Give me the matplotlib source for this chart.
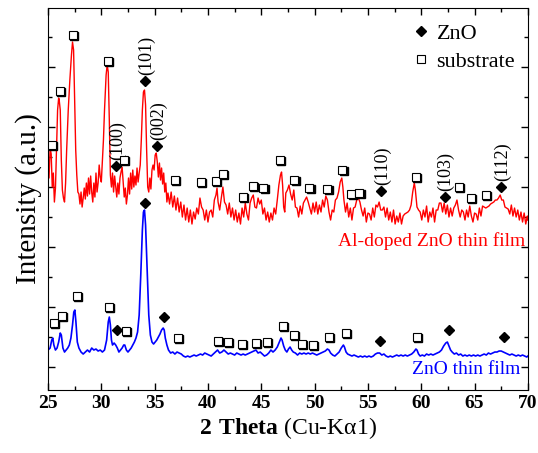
import matplotlib
matplotlib.use('Agg')
import matplotlib.pyplot as plt
import matplotlib.transforms as mtransforms
from matplotlib.lines import Line2D
from matplotlib.ticker import MultipleLocator

plt.rcParams['font.family'] = ['Liberation Serif', 'DejaVu Serif']
plt.rcParams['mathtext.fontset'] = 'custom'
plt.rcParams['mathtext.rm'] = 'Liberation Serif'
plt.rcParams['mathtext.bf'] = 'Liberation Serif:bold'

# Al-doped ZnO thin film (red), intensity in arbitrary units
red_x = [25.00, 25.10, 25.20, 25.30, 25.40, 25.50, 25.60, 25.70, 25.80, 25.90, 26.00, 26.05, 26.15, 26.25, 26.35,
         26.45, 26.55, 26.65, 26.75, 26.90, 27.05, 27.20, 27.30, 27.40, 27.50, 27.60, 27.70, 27.80, 27.90, 28.00,
         28.10, 28.20, 28.30, 28.40, 28.50, 28.60, 28.70, 28.80, 28.90, 29.00, 29.10, 29.20, 29.30, 29.40, 29.50,
         29.60, 29.70, 29.80, 29.90, 30.00, 30.10, 30.20, 30.30, 30.45, 30.55, 30.65, 30.75, 30.85, 30.95, 31.05,
         31.15, 31.25, 31.35, 31.45, 31.55, 31.65, 31.75, 31.85, 31.95, 32.05, 32.15, 32.25, 32.35, 32.45, 32.55,
         32.65, 32.75, 32.85, 32.95, 33.05, 33.15, 33.25, 33.35, 33.45, 33.55, 33.65, 33.75, 33.85, 33.95, 34.05,
         34.15, 34.25, 34.35, 34.45, 34.55, 34.65, 34.75, 34.85, 34.95, 35.05, 35.15, 35.25, 35.35, 35.45, 35.55,
         35.65, 35.75, 35.85, 35.95, 36.05, 36.15, 36.25, 36.40, 36.55, 36.70, 36.85, 37.00, 37.15, 37.30, 37.45,
         37.60, 37.75, 37.90, 38.05, 38.20, 38.35, 38.50, 38.65, 38.80, 38.95, 39.10, 39.25, 39.40, 39.55, 39.70,
         39.85, 40.00, 40.15, 40.30, 40.45, 40.60, 40.75, 40.85, 40.95, 41.10, 41.25, 41.40, 41.55, 41.70, 41.85,
         42.00, 42.15, 42.30, 42.45, 42.60, 42.75, 42.90, 43.05, 43.20, 43.35, 43.50, 43.65, 43.80, 43.95, 44.10,
         44.25, 44.40, 44.55, 44.70, 44.85, 45.00, 45.15, 45.30, 45.45, 45.60, 45.75, 45.90, 46.05, 46.20, 46.35,
         46.50, 46.65, 46.80, 46.90, 47.00, 47.10, 47.20, 47.30, 47.45, 47.60, 47.75, 47.90, 48.05, 48.20, 48.35,
         48.50, 48.65, 48.80, 48.95, 49.10, 49.25, 49.40, 49.55, 49.70, 49.85, 50.00, 50.15, 50.30, 50.45, 50.60,
         50.75, 50.90, 51.05, 51.20, 51.35, 51.50, 51.65, 51.80, 51.95, 52.10, 52.25, 52.40, 52.55, 52.65, 52.75,
         52.90, 53.05, 53.20, 53.35, 53.50, 53.65, 53.80, 53.95, 54.10, 54.25, 54.40, 54.55, 54.70, 54.85, 55.00,
         55.15, 55.30, 55.45, 55.60, 55.75, 55.90, 56.05, 56.20, 56.35, 56.50, 56.65, 56.80, 56.95, 57.10, 57.25,
         57.40, 57.55, 57.70, 57.85, 58.00, 58.15, 58.30, 58.45, 58.60, 58.75, 58.90, 59.05, 59.20, 59.35, 59.45,
         59.60, 59.75, 59.90, 60.05, 60.20, 60.35, 60.50, 60.65, 60.80, 60.95, 61.10, 61.25, 61.40, 61.55, 61.70,
         61.85, 62.00, 62.15, 62.30, 62.45, 62.60, 62.75, 62.90, 63.05, 63.20, 63.35, 63.50, 63.65, 63.80, 63.95,
         64.10, 64.25, 64.40, 64.55, 64.70, 64.85, 65.00, 65.15, 65.30, 65.45, 65.60, 65.75, 65.90, 66.05, 66.20,
         66.35, 66.50, 66.65, 66.80, 66.95, 67.10, 67.25, 67.40, 67.55, 67.70, 67.85, 68.00, 68.15, 68.30, 68.45,
         68.60, 68.75, 68.90, 69.05, 69.20, 69.35, 69.50, 69.65, 69.80, 69.95, 70.00]
red_y = [230, 212, 242, 236, 203, 217, 188, 202, 240, 280, 292, 290, 280, 230, 200,
         192, 188, 207, 240, 280, 310, 335, 348, 340, 290, 240, 215, 198, 196, 186,
         198, 183, 192, 202, 191, 207, 194, 212, 196, 214, 198, 188, 207, 193, 217,
         198, 207, 225, 213, 208, 230, 250, 280, 315, 325, 318, 270, 215, 203, 217,
         198, 214, 203, 193, 207, 196, 212, 218, 223, 208, 193, 202, 186, 195, 212,
         196, 217, 201, 220, 203, 214, 205, 222, 208, 217, 225, 250, 280, 298, 300,
         285, 240, 203, 198, 212, 201, 220, 225, 220, 235, 237, 228, 213, 227, 210,
         222, 206, 217, 198, 207, 188, 197, 186, 198, 183, 194, 180, 192, 178, 188,
         173, 185, 170, 182, 168, 180, 166, 178, 171, 182, 176, 192, 183, 180, 170,
         180, 168, 178, 180, 173, 190, 195, 202, 188, 180, 192, 203, 188, 185, 176,
         187, 173, 182, 170, 180, 168, 177, 166, 182, 173, 187, 176, 170, 187, 192,
         195, 183, 182, 192, 186, 190, 176, 182, 170, 178, 168, 177, 170, 182, 176,
         190, 205, 215, 218, 205, 183, 178, 197, 200, 205, 196, 190, 200, 183, 182,
         173, 184, 176, 187, 190, 193, 188, 182, 176, 187, 178, 188, 176, 185, 178,
         190, 183, 194, 190, 178, 170, 180, 178, 190, 192, 198, 208, 212, 203, 190,
         178, 187, 173, 182, 170, 182, 183, 190, 192, 188, 180, 174, 182, 168, 177,
         176, 170, 182, 173, 185, 183, 188, 180, 180, 183, 173, 182, 170, 178, 168,
         180, 166, 174, 168, 177, 166, 174, 176, 177, 178, 180, 185, 198, 207, 200,
         183, 180, 178, 170, 180, 173, 184, 168, 178, 173, 182, 168, 180, 180, 187,
         187, 178, 187, 176, 185, 173, 182, 174, 182, 185, 190, 180, 173, 180, 178,
         170, 180, 173, 184, 174, 168, 177, 176, 170, 182, 174, 184, 183, 182, 183,
         184, 186, 187, 188, 190, 190, 192, 195, 190, 190, 183, 182, 181, 176, 185,
         174, 182, 173, 180, 170, 178, 168, 177, 166, 174, 170]

# ZnO thin film (blue)
blue_x = [25.00, 25.20, 25.35, 25.45, 25.55, 25.70, 25.85, 26.00, 26.15, 26.25, 26.40, 26.55, 26.70, 26.85, 27.00,
          27.15, 27.30, 27.42, 27.52, 27.62, 27.75, 27.90, 28.10, 28.30, 28.50, 28.70, 28.90, 29.10, 29.30, 29.50,
          29.70, 29.90, 30.10, 30.30, 30.50, 30.65, 30.75, 30.85, 30.95, 31.05, 31.20, 31.35, 31.50, 31.65, 31.80,
          31.95, 32.10, 32.20, 32.35, 32.50, 32.65, 32.80, 32.95, 33.10, 33.25, 33.40, 33.55, 33.70, 33.85, 33.95,
          34.05, 34.15, 34.30, 34.45, 34.60, 34.75, 34.90, 35.05, 35.20, 35.35, 35.50, 35.65, 35.80, 35.90, 36.00,
          36.15, 36.30, 36.50, 36.70, 36.90, 37.10, 37.30, 37.50, 37.70, 37.90, 38.10, 38.30, 38.50, 38.70, 38.90,
          39.10, 39.30, 39.50, 39.70, 39.90, 40.10, 40.30, 40.50, 40.70, 40.90, 41.10, 41.30, 41.50, 41.70, 41.90,
          42.10, 42.30, 42.50, 42.70, 42.90, 43.10, 43.30, 43.50, 43.70, 43.90, 44.10, 44.30, 44.50, 44.70, 44.90,
          45.10, 45.30, 45.50, 45.70, 45.90, 46.10, 46.30, 46.50, 46.70, 46.85, 46.95, 47.10, 47.25, 47.40, 47.55,
          47.70, 47.85, 48.00, 48.20, 48.40, 48.60, 48.80, 49.00, 49.20, 49.40, 49.60, 49.80, 50.00, 50.20, 50.40,
          50.60, 50.80, 51.00, 51.20, 51.35, 51.50, 51.70, 51.90, 52.10, 52.30, 52.50, 52.70, 52.80, 52.95, 53.10,
          53.30, 53.50, 53.70, 53.90, 54.10, 54.30, 54.50, 54.70, 54.90, 55.10, 55.30, 55.50, 55.70, 55.90, 56.10,
          56.30, 56.50, 56.70, 56.90, 57.10, 57.30, 57.50, 57.70, 57.90, 58.10, 58.30, 58.50, 58.70, 58.90, 59.10,
          59.30, 59.50, 59.60, 59.75, 59.90, 60.10, 60.30, 60.50, 60.70, 60.90, 61.10, 61.30, 61.50, 61.70, 61.90,
          62.10, 62.30, 62.45, 62.60, 62.75, 62.90, 63.10, 63.30, 63.50, 63.70, 63.90, 64.10, 64.30, 64.50, 64.70,
          64.90, 65.10, 65.30, 65.50, 65.70, 65.90, 66.10, 66.30, 66.50, 66.70, 66.90, 67.10, 67.30, 67.50, 67.70,
          67.90, 68.10, 68.30, 68.50, 68.70, 68.90, 69.10, 69.30, 69.50, 69.70, 69.90, 70.00]
blue_y = [40, 42, 50, 52, 45, 40, 42, 48, 57, 55, 42, 38, 40, 42, 45,
          52, 65, 78, 80, 68, 48, 42, 38, 36, 38, 40, 38, 42, 40, 41,
          39, 40, 38, 40, 50, 68, 73, 65, 50, 45, 47, 45, 42, 38, 40,
          42, 45, 45, 40, 38, 40, 42, 45, 48, 52, 58, 75, 115, 160, 178,
          180, 165, 120, 75, 55, 48, 46, 48, 50, 53, 56, 60, 62, 60, 52,
          45, 40, 37, 38, 36, 38, 37, 36, 34, 33, 34, 33, 34, 35, 34,
          35, 36, 35, 37, 36, 35, 34, 36, 38, 40, 37, 38, 40, 38, 36,
          37, 36, 35, 37, 36, 35, 36, 35, 36, 37, 38, 39, 40, 37, 38,
          36, 34, 35, 37, 40, 38, 40, 43, 48, 52, 50, 44, 40, 38, 41,
          43, 40, 38, 37, 35, 37, 36, 37, 36, 37, 36, 37, 36, 35, 36,
          37, 38, 39, 41, 40, 37, 35, 34, 36, 38, 42, 45, 43, 38, 36,
          35, 34, 35, 34, 33, 34, 33, 34, 33, 34, 33, 34, 36, 37, 37,
          35, 36, 34, 33, 34, 33, 34, 35, 34, 35, 34, 35, 34, 35, 36,
          38, 41, 40, 36, 34, 35, 34, 36, 35, 36, 35, 36, 37, 38, 40,
          44, 47, 48, 44, 40, 38, 36, 37, 35, 36, 34, 35, 34, 35, 34,
          35, 34, 35, 34, 35, 36, 35, 37, 36, 37, 38, 38, 39, 39, 38,
          37, 36, 35, 36, 35, 34, 35, 34, 35, 34, 33, 34]

# phase markers
red_sub_x = [25.38, 26.13, 27.34, 30.60, 32.10, 36.90, 39.35, 40.75, 41.40, 43.30, 44.20, 45.20,
             46.75, 48.10, 49.50, 51.20, 52.60, 53.45, 54.20, 59.50, 63.50, 64.65, 66.05]
red_sub_y = [245, 299, 355, 329, 230, 210, 208, 209, 216, 193, 204, 202,
             230, 210, 202, 201, 220, 196, 197, 213, 203, 192, 195]
red_zno_x = [31.35, 34.10, 35.20, 56.20, 62.20, 67.50]
red_zno_y = [224, 309, 244, 199, 193, 203]
red_zno_hkl = ['(100)', '(101)', '(002)', '(110)', '(103)', '(112)']

blue_sub_x = [25.55, 26.30, 27.70, 30.70, 32.30, 37.20, 40.90, 41.90, 43.20, 44.50, 45.50, 47.00,
              48.05, 48.80, 49.85, 51.35, 52.95, 59.60]
blue_sub_y = [67, 74, 94, 83, 59, 52, 49, 48, 46, 47, 48, 64,
              55, 46, 45, 53, 57, 53]
blue_zno_x = [31.45, 34.10, 35.90, 56.10, 62.60, 67.75]
blue_zno_y = [60, 187, 73, 49, 60, 53]

fig = plt.figure(figsize=(5.38, 4.53), dpi=100)
ax = fig.add_axes([0.0892, 0.139, 0.892, 0.8433])

ax.plot(red_x, red_y, color='#ff0000', lw=1.0)
ax.plot(blue_x, blue_y, color='#0000ff', lw=1.2)

# squares get a small dark drop shadow like the original
shadow = mtransforms.offset_copy(ax.transData, fig=fig, x=0.9, y=-0.9, units='points')
for sx, sy in [(red_sub_x, red_sub_y), (blue_sub_x, blue_sub_y)]:
    ax.plot(sx, sy, 's', ms=5.5, color='black', transform=shadow, zorder=4)
    ax.plot(sx, sy, 's', ms=5.5, mfc='white', mec='black', mew=0.8, zorder=5)
ax.plot(red_zno_x, red_zno_y, 'D', ms=5.5, color='black', zorder=5)
ax.plot(blue_zno_x, blue_zno_y, 'D', ms=5.5, color='black', zorder=5)

for hx, hy, lab in zip(red_zno_x, red_zno_y, red_zno_hkl):
    ax.annotate(lab, (hx, hy), xytext=(1, 4), textcoords='offset points',
                rotation=90, ha='center', va='bottom', fontsize=13)

ax.text(69.72, 149, 'Al-doped ZnO thin film', color='#ff0000', fontsize=14, ha='right', va='center')
ax.text(69.34, 21, 'ZnO thin film', color='#0000ff', fontsize=14, ha='right', va='center')

handles = [Line2D([], [], ls='none', marker='D', ms=5.5, color='black'),
           Line2D([], [], ls='none', marker='s', ms=5.5, mfc='white', mec='black', mew=0.8)]
ax.legend(handles, ['ZnO', 'substrate'], loc='upper left', bbox_to_anchor=(0.74, 0.99),
          frameon=False, fontsize=16, handlelength=0.6, handletextpad=0.4, labelspacing=0.35, borderpad=0)

ax.set_xlim(25, 70)
ax.set_ylim(0, 382)
ax.xaxis.set_major_locator(MultipleLocator(5))
ax.xaxis.set_minor_locator(MultipleLocator(2.5))
ax.set_yticks([23, 83, 143, 203, 263, 323])
ax.set_yticks([53, 113, 173, 233, 293, 353], minor=True)
ax.tick_params(which='both', direction='in', top=True, right=True, labelleft=False)
ax.tick_params(which='major', length=5, width=1)
ax.tick_params(which='minor', length=3, width=1)
for lab in ax.get_xticklabels():
    lab.set_fontweight('bold')
    lab.set_fontsize(14)

ax.set_xlabel(r'$\mathbf{2\ Theta}$ (Cu-Kα1)', fontsize=17, labelpad=2)
ax.set_ylabel('Intensity (a.u.)', fontsize=21, labelpad=4)

plt.savefig('out.png', dpi=100)
